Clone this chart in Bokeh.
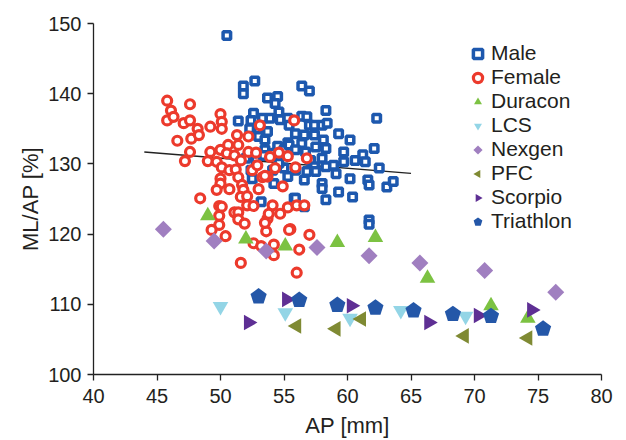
from bokeh.plotting import figure
from bokeh.models import Legend, LegendItem, Range1d, FixedTicker
from bokeh.embed import file_html
from bokeh.resources import INLINE

# ---- data (AP [mm], ML/AP [%]) ----
male_ap = [50.5, 52.7, 51.8, 51.8, 56.4, 57.0, 53.7, 54.5, 54.3, 58.3, 62.3, 51.4, 52.6, 52.4,
           53.3, 53.9, 54.6, 54.7, 55.3, 55.4, 56.4, 56.8, 57.0, 57.4, 58.0, 58.4, 52.3, 53.0,
           53.7, 53.0, 53.5, 55.9, 56.6, 57.4, 59.3, 60.2, 58.1, 56.4, 55.3, 54.5, 53.5, 53.4,
           54.1, 55.0, 55.4, 55.9, 56.7, 57.5, 58.3, 59.7, 61.2, 62.1, 58.0, 57.1, 57.4, 58.3,
           58.9, 59.7, 60.6, 61.4, 62.5, 59.1, 56.8, 57.5, 55.9, 55.3, 55.0, 54.6, 56.6, 58.0,
           58.0, 59.3, 60.2, 61.6, 61.7, 63.1, 63.6, 54.2, 55.8, 58.3, 60.4, 53.2, 56.6, 61.7,
           61.7, 52.4, 52.5, 52.8, 54.1, 52.0, 55.9]
male_mlap = [148.3, 141.8, 141.1, 140.0, 141.1, 140.4, 139.4, 139.6, 138.6, 137.6, 136.5, 136.1,
             137.2, 136.2, 136.5, 136.5, 137.4, 136.3, 136.5, 135.5, 136.8, 136.7, 135.5, 135.5,
             135.5, 135.8, 135.0, 135.0, 134.6, 133.9, 133.4, 134.3, 134.1, 134.1, 134.3, 133.4,
             133.4, 132.9, 133.0, 132.5, 132.0, 131.2, 131.5, 132.0, 132.7, 132.0, 131.7, 132.4,
             132.2, 131.7, 131.3, 132.2, 130.8, 130.5, 129.6, 129.6, 129.8, 130.3, 130.5, 130.3,
             129.4, 128.6, 128.9, 128.9, 129.1, 128.2, 129.4, 130.1, 127.7, 127.2, 126.5, 126.0,
             127.9, 127.7, 127.0, 126.7, 127.5, 127.2, 125.1, 124.9, 125.3, 124.6, 123.9, 122.0,
             121.4, 129.1, 127.9, 130.5, 129.1, 130.8, 125.1]

female_ap = [45.8, 47.6, 46.1, 45.8, 46.3, 47.1, 47.6, 50.0, 50.1, 50.1, 49.2, 48.2, 47.7, 48.3,
             46.6, 51.3, 52.2, 53.1, 55.8, 47.6, 47.2, 49.2, 50.0, 50.6, 51.4, 50.5, 51.1, 49.0,
             49.7, 50.1, 50.7, 51.2, 51.6, 52.2, 52.8, 52.5, 52.9, 53.9, 54.6, 55.3, 54.3, 55.9,
             56.8, 50.0, 50.0, 50.7, 49.7, 51.4, 51.7, 51.8, 51.6, 52.1, 53.0, 53.7, 53.3, 54.9,
             48.4, 49.9, 50.1, 52.1, 52.6, 54.1, 55.3, 56.0, 56.6, 49.9, 51.1, 51.4, 51.4, 51.9,
             53.7, 53.8, 54.7, 55.5, 53.6, 49.9, 49.3, 50.4, 52.6, 53.2, 54.2, 56.2, 54.2, 51.6,
             56.0, 57.0, 53.5, 53.5, 55.4]
female_mlap = [139.0, 138.5, 137.6, 136.2, 136.7, 135.8, 136.2, 137.1, 136.0, 135.0, 135.3, 135.0,
               133.6, 134.1, 133.3, 134.1, 133.9, 135.5, 136.2, 131.7, 130.4, 131.7, 132.0, 132.7,
               132.7, 131.5, 131.2, 130.4, 130.3, 129.5, 129.1, 129.2, 130.5, 131.7, 131.6, 129.1,
               129.8, 131.0, 131.6, 131.1, 129.4, 129.5, 130.8, 127.9, 127.2, 126.4, 126.3, 128.1,
               127.0, 126.3, 125.3, 125.4, 126.4, 128.2, 128.1, 126.8, 125.1, 124.0, 123.9, 124.1,
               124.0, 124.1, 123.8, 124.1, 124.1, 122.6, 123.1, 123.1, 122.1, 121.5, 122.2, 122.9,
               122.9, 120.7, 120.4, 121.3, 120.6, 119.7, 118.7, 118.3, 118.5, 117.8, 117.0, 115.9,
               114.5, 119.9, 128.3, 121.6, 120.6]

duracon_ap = [49.0, 52.0, 55.1, 59.2, 62.2, 66.3, 71.3, 74.2]
duracon_mlap = [122.6, 119.3, 118.3, 118.8, 119.5, 113.7, 109.8, 108.0]

lcs_ap = [50.0, 55.1, 60.2, 64.2, 69.3]
lcs_mlap = [109.7, 108.8, 108.0, 109.1, 108.3]

nexgen_ap = [45.5, 49.5, 53.6, 57.6, 61.7, 65.7, 70.8, 76.4]
nexgen_mlap = [120.7, 119.0, 117.6, 118.1, 116.9, 115.9, 114.8, 111.7]

pfc_ap = [56.0, 59.1, 61.1, 69.2, 74.2]
pfc_mlap = [106.9, 106.5, 107.9, 105.5, 105.2]

scorpio_ap = [52.2, 55.2, 60.3, 66.4, 70.3, 74.5]
scorpio_mlap = [107.4, 110.7, 109.8, 107.4, 108.4, 109.2]

triathlon_ap = [53.0, 56.2, 59.2, 62.2, 65.2, 68.3, 71.3, 75.4]
triathlon_mlap = [111.1, 110.6, 109.9, 109.5, 109.1, 108.6, 108.3, 106.5]

fit_ap = [44.0, 65.0]
fit_mlap = [131.7, 128.65]

x_ticks = [40, 45, 50, 55, 60, 65, 70, 75, 80]
y_ticks = [100, 110, 120, 130, 140, 150]

FONT = "Liberation Sans"
TXT = "#231f20"

p = figure(width=626, height=440, x_range=Range1d(40, 80), y_range=Range1d(100, 150),
           output_backend="svg", toolbar_location=None,
           min_border_left=93, min_border_right=25, min_border_top=23, min_border_bottom=65)
p.outline_line_color = None
p.grid.visible = False
p.background_fill_color = "white"

for ax, ticks in ((p.xaxis[0], x_ticks), (p.yaxis[0], y_ticks)):
    ax.ticker = FixedTicker(ticks=ticks)
    ax.minor_tick_line_color = None
    ax.major_tick_in = 0
    ax.major_tick_out = 6
    ax.axis_line_color = "#222222"
    ax.major_tick_line_color = "#222222"
    ax.axis_line_width = 1.3
    ax.major_tick_line_width = 1.3
    ax.major_label_text_font = FONT
    ax.major_label_text_font_size = "20px"
    ax.major_label_text_color = TXT
    ax.axis_label_text_font = FONT
    ax.axis_label_text_font_size = "22px"
    ax.axis_label_text_font_style = "normal"
    ax.axis_label_text_color = TXT

p.xaxis.axis_label = "AP [mm]"
p.yaxis.axis_label = "ML/AP [%]"
p.xaxis.major_label_standoff = 8
p.yaxis.major_label_standoff = 6
p.xaxis.axis_label_standoff = 7
p.yaxis.axis_label_standoff = 2

p.line(fit_ap, fit_mlap, line_color="#222222", line_width=1.5)

r_male = p.scatter(male_ap, male_mlap, marker="square", size=7.5, fill_color="white",
                   line_color="#1d58ae", line_width=3.5)
r_female = p.scatter(female_ap, female_mlap, marker="circle", size=9, fill_color="white",
                     line_color="#ec3a2c", line_width=3.2)
r_dur = p.ngon(duracon_ap, duracon_mlap, radius=9, radius_units="screen", n=3, angle=0,
               fill_color="#7cc242", line_color=None)
r_lcs = p.ngon(lcs_ap, lcs_mlap, radius=9, radius_units="screen", n=3, angle=3.14159,
               fill_color="#93d5e6", line_color=None)
r_nex = p.ngon(nexgen_ap, nexgen_mlap, radius=8.5, radius_units="screen", n=4, angle=0,
               fill_color="#a07fc0", line_color=None)
r_pfc = p.ngon(pfc_ap, pfc_mlap, radius=9, radius_units="screen", n=3, angle=1.5708,
               fill_color="#7f8a33", line_color=None)
r_sco = p.ngon(scorpio_ap, scorpio_mlap, radius=9, radius_units="screen", n=3, angle=-1.5708,
               fill_color="#5e2f94", line_color=None)
r_tri = p.ngon(triathlon_ap, triathlon_mlap, radius=8.5, radius_units="screen", n=5, angle=0,
               fill_color="#2457a8", line_color=None)

legend = Legend(items=[
    LegendItem(label="Male", renderers=[r_male]),
    LegendItem(label="Female", renderers=[r_female]),
    LegendItem(label="Duracon", renderers=[r_dur]),
    LegendItem(label="LCS", renderers=[r_lcs]),
    LegendItem(label="Nexgen", renderers=[r_nex]),
    LegendItem(label="PFC", renderers=[r_pfc]),
    LegendItem(label="Scorpio", renderers=[r_sco]),
    LegendItem(label="Triathlon", renderers=[r_tri]),
], location=(373, 141))
legend.border_line_color = None
legend.background_fill_alpha = 0
legend.label_text_font = FONT
legend.label_text_font_size = "21px"
legend.label_text_color = TXT
legend.glyph_width = 23
legend.glyph_height = 23
legend.label_height = 20
legend.spacing = 0
legend.padding = 0
legend.margin = 0
legend.label_standoff = 2
p.add_layout(legend, "center")

open("out.html", "w").write(file_html(p, INLINE))
